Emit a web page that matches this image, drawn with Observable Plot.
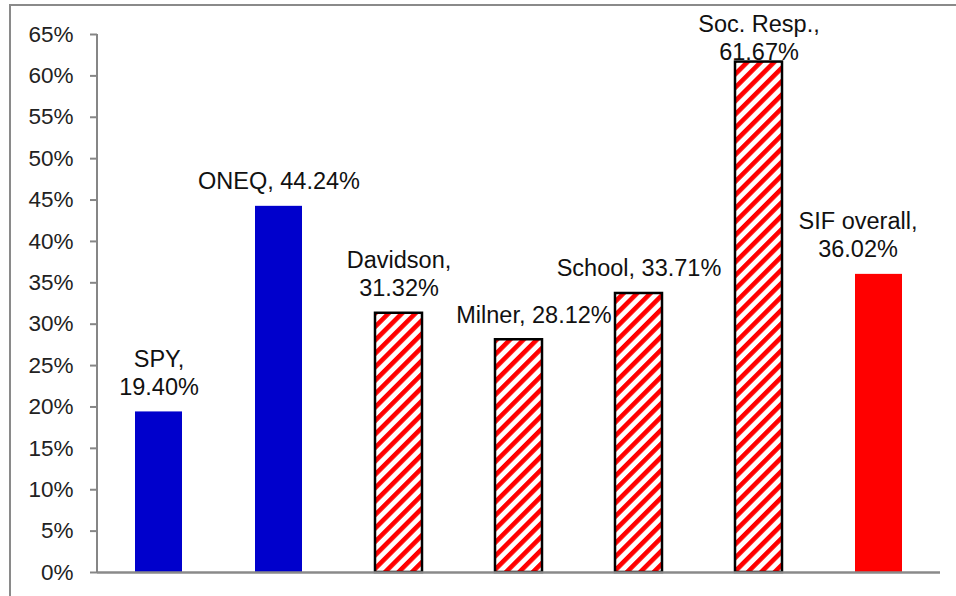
<!DOCTYPE html>
<html>
<head>
<meta charset="utf-8">
<script src="https://cdn.jsdelivr.net/npm/d3@7"></script>
<script src="https://cdn.jsdelivr.net/npm/@observablehq/plot@0.6"></script>
<style>
  html, body { margin: 0; padding: 0; background: white; overflow: hidden; }
  #wrap { position: relative; width: 956px; height: 596px; }
  #frame { position: absolute; left: 9px; top: 4px; width: 2000px; height: 2000px;
           border-left: 2px solid #8a8a8a; border-top: 2px solid #8a8a8a; z-index: 2; pointer-events: none; }
  #chart { position: absolute; left: 0; top: 0; }
</style>
</head>
<body>
<div id="wrap"><div id="chart"></div><div id="frame"></div></div>
<script>
const names = ["SPY", "ONEQ", "Davidson", "Milner", "School", "Soc. Resp.", "SIF overall"];
const values = [19.40, 44.24, 31.32, 28.12, 33.71, 61.67, 36.02];
const kinds = ["blue", "blue", "hatch", "hatch", "hatch", "hatch", "red"];
const labels = ["SPY,\n19.40%", "ONEQ, 44.24%", "Davidson,\n31.32%", "Milner, 28.12%", "School, 33.71%", "Soc. Resp.,\n61.67%", "SIF overall,\n36.02%"];
const yTicks = [0, 5, 10, 15, 20, 25, 30, 35, 40, 45, 50, 55, 60, 65];

const rows = names.map((n, i) => ({name: n, value: values[i], kind: kinds[i], label: labels[i]}));

const font = "'Liberation Sans', Arial, sans-serif";
const textOpts = (extra) => ({
  x: "name", y: "value", text: "label",
  lineAnchor: "bottom", dy: -17, fontSize: 23.5, lineHeight: 1.19,
  fill: "#111", ...extra
});
const special = ["Milner", "SIF overall", "Soc. Resp."];

const chart = Plot.plot({
  width: 956,
  height: 596,
  marginLeft: 97,
  marginRight: 16,
  marginTop: 34,
  marginBottom: 24,
  style: {fontFamily: font, background: "transparent"},
  x: {domain: names, paddingInner: 0.61, paddingOuter: 0.305, axis: null},
  y: {domain: [0, 65], axis: null},
  marks: [
    Plot.barY(rows, {x: "name", y: "value", fill: "#0000CC", filter: d => d.kind === "blue"}),
    Plot.barY(rows, {x: "name", y: "value", fill: "#FF0000", filter: d => d.kind === "red"}),
    Plot.barY(rows, {x: "name", y: "value", fill: "url(#hatch)", stroke: "#000", strokeWidth: 2.5, filter: d => d.kind === "hatch"}),
    Plot.axisY({ticks: yTicks, tickFormat: d => d + "%", tickSize: 7, tickPadding: 17, fontSize: 22.5,
                stroke: "#868686", strokeWidth: 2, fill: "#222", label: null}),
    Plot.ruleY([0], {stroke: "#8a8a8a", strokeWidth: 2.5}),
    Plot.text(rows, textOpts({filter: d => !special.includes(d.name)})),
    Plot.text(rows, textOpts({filter: d => d.name === "Milner", dx: 15})),
    Plot.text(rows, textOpts({filter: d => d.name === "SIF overall", dx: -21})),
    Plot.text(rows, textOpts({filter: d => d.name === "Soc. Resp.", dy: -2}))
  ]
});

// hatch pattern definition
const svgNS = "http://www.w3.org/2000/svg";
const defs = document.createElementNS(svgNS, "defs");
defs.innerHTML = `<pattern id="hatch" width="9.5" height="9.5" patternUnits="userSpaceOnUse" patternTransform="rotate(45)">
  <rect width="9.5" height="9.5" fill="white"/>
  <rect width="4.6" height="9.5" fill="#FF0000"/>
</pattern>`;
chart.insertBefore(defs, chart.firstChild);

// left axis line through the y scale
const ys = chart.scale("y");
d3.select(chart).append("line")
  .attr("x1", 97).attr("x2", 97)
  .attr("y1", ys.apply(0)).attr("y2", ys.apply(65))
  .attr("stroke", "#868686").attr("stroke-width", 2);

document.getElementById("chart").appendChild(chart);
</script>
</body>
</html>
